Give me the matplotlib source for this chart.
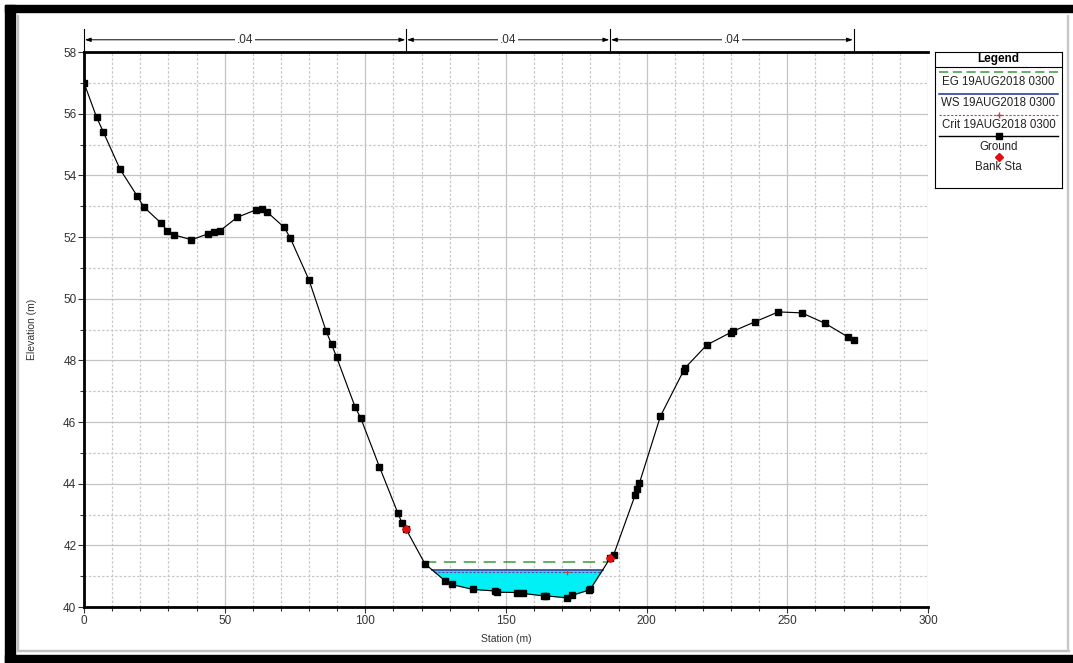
import matplotlib
matplotlib.use("Agg")
import matplotlib.pyplot as plt
from matplotlib.patches import Rectangle
from matplotlib.lines import Line2D
from matplotlib.ticker import MultipleLocator
import numpy as np

plt.rcParams["font.family"] = ["Liberation Sans", "DejaVu Sans"]

# ground profile (station m, elevation m)
station = [0.0, 4.5, 6.9, 12.8, 18.9, 21.3, 27.3, 29.6, 32.0, 38.2, 44.0, 46.3,
           48.3, 54.5, 61.1, 63.2, 65.2, 71.2, 73.3, 80.0, 86.1, 88.0, 89.8,
           96.4, 98.4, 105.0, 111.5, 113.0, 114.5, 121.2, 128.3, 130.7, 138.2,
           146.1, 146.8, 153.8, 155.9, 163.5, 164.2, 171.6, 173.6, 179.5,
           180.0, 187.0, 188.3, 195.9, 196.7, 197.4, 204.9, 213.1, 213.5,
           221.4, 229.8, 230.6, 238.5, 246.8, 255.1, 263.4, 271.7, 273.6]
ground = [57.0, 55.88, 55.4, 54.2, 53.33, 52.97, 52.46, 52.2, 52.07, 51.91,
          52.1, 52.15, 52.2, 52.64, 52.88, 52.91, 52.8, 52.31, 51.97, 50.6,
          48.94, 48.52, 48.1, 46.48, 46.12, 44.55, 43.06, 42.73, 42.52, 41.4,
          40.85, 40.73, 40.57, 40.52, 40.48, 40.47, 40.44, 40.36, 40.36, 40.3,
          40.38, 40.55, 40.58, 41.58, 41.7, 43.63, 43.84, 44.01, 46.19, 47.66,
          47.74, 48.5, 48.9, 48.94, 49.25, 49.57, 49.54, 49.2, 48.75, 48.66]
bank_sta = [114.5, 187.0]
bank_elev = [42.52, 41.58]
eg_elev = 41.46
ws_elev = 41.2
crit_elev = 41.14
crit_sta = 171.6
n_breaks = [0.0, 114.5, 187.0, 273.6]
n_values = [".04", ".04", ".04"]

leg_labels = ["EG 19AUG2018 0300", "WS 19AUG2018 0300", "Crit 19AUG2018 0300",
              "Ground", "Bank Sta"]

W, H = 1073, 663
fig = plt.figure(figsize=(W / 100, H / 100), dpi=100)
fig.patch.set_facecolor("white")


def fx(p):
    return p / W


def fy(p):
    return 1 - p / H


# window frame
for (x0, y0, w, h, c) in [(5, 5, 1068, 7, "black"), (5, 5, 10, 658, "black"),
                          (5, 655, 1068, 8, "black"), (17, 15, 1, 636, "#c0c0c0"),
                          (17, 650, 1052, 1, "#c0c0c0"), (1067, 15, 1, 636, "#c8c8c8")]:
    fig.patches.append(Rectangle((fx(x0), fy(y0 + h)), w / W, h / H,
                                 transform=fig.transFigure, color=c, zorder=0))

ax = fig.add_axes([fx(84), fy(607), (928 - 84) / W, (607 - 52) / H])
ax.set_xlim(0, 300)
ax.set_ylim(40, 58)

# grid: solid at labelled values, dashed in between
for v in np.arange(0, 301, 10):
    if v % 50 == 0:
        ax.axvline(v, color="#c4c4c4", lw=0.9, zorder=0)
    else:
        ax.axvline(v, color="#c8c8c8", lw=0.9, ls=(0, (2, 1.5)), zorder=0)
for v in np.arange(40, 59, 1):
    if v % 2 == 0:
        ax.axhline(v, color="#c4c4c4", lw=0.9, zorder=0)
    else:
        ax.axhline(v, color="#c8c8c8", lw=0.9, ls=(0, (2, 1.5)), zorder=0)

sta = np.array(station)
gr = np.array(ground)
ax.fill_between(sta, gr, ws_elev, where=gr < ws_elev, interpolate=True,
                color="#00f0f5", lw=0, zorder=1)


def crossing(level):
    """left/right stations where the channel ground meets `level`"""
    inside = np.where(gr < level)[0]
    i, j = inside[0], inside[-1]
    xl = np.interp(level, [gr[i], gr[i - 1]], [sta[i], sta[i - 1]])
    xr = np.interp(level, [gr[j], gr[j + 1]], [sta[j], sta[j + 1]])
    return xl, xr


xl, xr = crossing(eg_elev)
ax.plot([xl, xr], [eg_elev, eg_elev], color="#3c9a3c", lw=1.1,
        dashes=(8, 5), zorder=2)
xl, xr = crossing(ws_elev)
ax.plot([xl, xr], [ws_elev, ws_elev], color="#1a2f9a", lw=1.1, zorder=3)
xl, xr = crossing(crit_elev)
ax.plot([xl, xr], [crit_elev, crit_elev], color="#7040a0", lw=0.8,
        dashes=(2, 1.5), zorder=3)
ax.plot([crit_sta], [crit_elev], marker="+", color="#c04050", ms=4, mew=0.8,
        zorder=3)

ax.plot(sta, gr, color="black", lw=0.85, marker="s", ms=3.8, zorder=4)
ax.plot(bank_sta, bank_elev, ls="none", marker="D", color="#e01010", ms=3.8,
        zorder=5)

# Manning's n bars above the plot
tr = ax.get_xaxis_transform()
for x in n_breaks:
    ax.plot([x, x], [1.0, 1.042], transform=tr, color="black", lw=0.8,
            clip_on=False)
for a, b, lab in zip(n_breaks[:-1], n_breaks[1:], n_values):
    ax.annotate("", xy=(a + 0.3, 1.022), xytext=(b - 0.3, 1.022),
                xycoords=tr, textcoords=tr,
                arrowprops=dict(arrowstyle="<|-|>,head_length=0.35,head_width=0.12",
                                color="black", lw=0.7, shrinkA=0, shrinkB=0))
    ax.text((a + b) / 2, 1.022, lab, transform=tr, ha="center", va="center",
            fontsize=8.5, color="#333333",
            bbox=dict(boxstyle="square,pad=0.15", fc="white", ec="none"))

ax.xaxis.set_major_locator(MultipleLocator(50))
ax.xaxis.set_minor_locator(MultipleLocator(10))
ax.yaxis.set_major_locator(MultipleLocator(2))
ax.yaxis.set_minor_locator(MultipleLocator(1))
ax.tick_params(which="both", direction="out", color="#333333", labelsize=8.5,
               labelcolor="#333333", width=0.8)
ax.tick_params(which="major", length=4, pad=1.5)
ax.tick_params(which="minor", length=3)
for s in ("left", "bottom", "top"):
    ax.spines[s].set_linewidth(2.0)
ax.spines["right"].set_visible(False)
ax.set_xlabel("Station (m)", fontsize=7.5, color="#333333", labelpad=5)
ax.set_ylabel("Elevation (m)", fontsize=7.5, color="#333333", labelpad=19)

# HEC-RAS style legend box (line drawn above each label)
lg = fig.add_axes([fx(935), fy(188), 127 / W, 136 / H])
lg.set_xlim(0, 127)
lg.set_ylim(136, 0)
lg.set_xticks([])
lg.set_yticks([])
for s in lg.spines.values():
    s.set_linewidth(0.8)
lg.text(63.5, 7, "Legend", ha="center", va="center", fontsize=8.5,
        fontweight="bold")
lg.plot([0, 127], [15, 15], color="black", lw=0.8)
styles = [dict(color="#3c9a3c", lw=1.1, dashes=(6, 3)),
          dict(color="#1a2f9a", lw=1.1),
          dict(color="#c04050", lw=0.8, dashes=(2, 1.5)),
          dict(color="black", lw=1.0),
          None]
mids = [dict(), dict(), dict(marker="+", color="#c04050", ms=4),
        dict(marker="s", color="black", ms=3.8),
        dict(marker="D", color="#e01010", ms=3.8)]
line_y = [20, 42, 63, 84, 105]
text_y = [30, 51, 73, 95, 115]
for lab, st, mk, ly, ty in zip(leg_labels, styles, mids, line_y, text_y):
    if st is not None:
        lg.add_line(Line2D([4, 123], [ly, ly], **st))
    if mk:
        lg.plot([63.5], [ly], ls="none", **mk)
    lg.text(63.5, ty, lab, ha="center", va="center", fontsize=8.3,
            color="#222222")

fig.savefig("out.png", dpi=100)
